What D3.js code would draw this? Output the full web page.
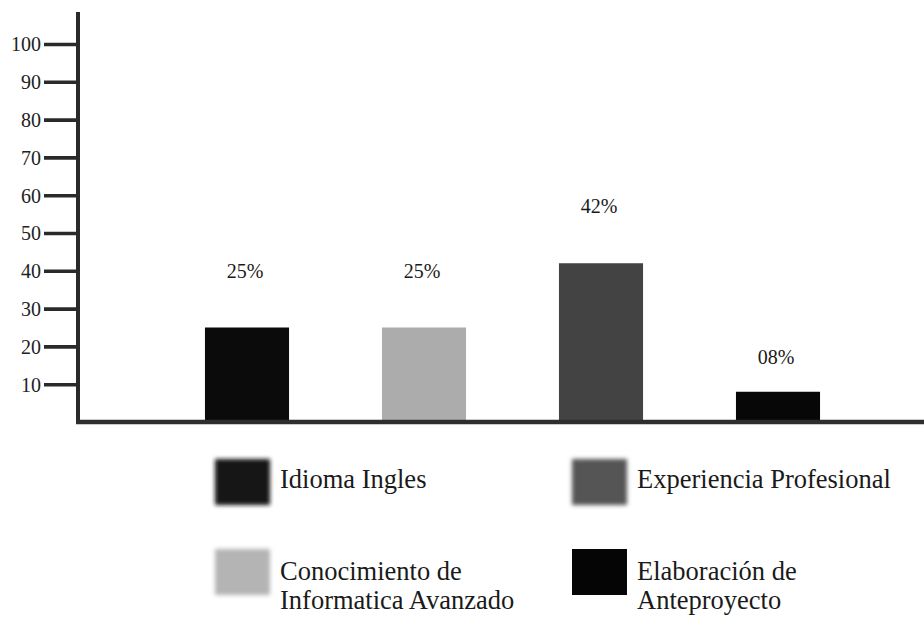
<!DOCTYPE html>
<html>
<head>
<meta charset="utf-8">
<script src="https://cdn.jsdelivr.net/npm/d3@7"></script>
<style>
  html, body { margin: 0; padding: 0; background: #fff; }
  svg { display: block; }
</style>
</head>
<body>
<svg id="chart" width="924" height="617"></svg>
<script>
// ---- data ----
const categories = ["Idioma Ingles", "Conocimiento de Informatica Avanzado", "Experiencia Profesional", "Elaboración de Anteproyecto"];
const values = [25, 25, 42, 8];
const valueLabels = ["25%", "25%", "42%", "08%"];
const barColors = ["#0b0b0b", "#acacac", "#434343", "#070707"];
const yTicks = [10, 20, 30, 40, 50, 60, 70, 80, 90, 100];
const legendLines = [["Idioma Ingles"], ["Conocimiento de", "Informatica Avanzado"], ["Experiencia Profesional"], ["Elaboración de", "Anteproyecto"]];
const legendColors = ["#151515", "#b4b4b4", "#555555", "#050505"];
const legendBlur = [true, true, true, false];
const legendCol = [0, 0, 1, 1];
const legendRow = [0, 1, 0, 1];

// ---- layout ----
const FONT = "'Liberation Serif', 'Times New Roman', serif";
const svg = d3.select("#chart");
const axisX = 78, baseY = 422;
const y = d3.scaleLinear().domain([0, 100]).range([baseY, 44]);
const x = d3.scaleBand().domain(categories).range([158.5, 866.5]).paddingInner(0.525).paddingOuter(0.2625);

const defs = svg.append("defs");
defs.append("filter").attr("id", "soft").attr("x", "-20%").attr("y", "-20%").attr("width", "140%").attr("height", "140%")
  .append("feGaussianBlur").attr("stdDeviation", 2.2);

// y axis ticks
const yAxis = d3.axisLeft(y).tickValues(yTicks).tickSize(34).tickPadding(3).tickFormat(d3.format("d"));
const gy = svg.append("g").attr("transform", `translate(${axisX},0)`).call(yAxis);
gy.select(".domain").remove();
gy.selectAll(".tick line").attr("stroke", "#2a2a2a").attr("stroke-width", 3.6);
gy.selectAll(".tick text").attr("font-size", 20).attr("fill", "#222").attr("dy", "0.34em")
  .style("font-family", FONT);

// bars
svg.selectAll("rect.bar").data(values).join("rect").attr("class", "bar")
  .attr("x", (d, i) => x(categories[i]))
  .attr("width", x.bandwidth())
  .attr("y", d => y(d))
  .attr("height", d => baseY - y(d))
  .attr("fill", (d, i) => barColors[i]);

// axis lines
svg.append("line").attr("x1", axisX).attr("x2", axisX).attr("y1", 12).attr("y2", baseY + 2)
  .attr("stroke", "#2a2a2a").attr("stroke-width", 4);
svg.append("line").attr("x1", axisX - 2).attr("x2", 924).attr("y1", baseY).attr("y2", baseY)
  .attr("stroke", "#2e2e2e").attr("stroke-width", 4.5);

// value labels
svg.selectAll("text.val").data(values).join("text").attr("class", "val")
  .attr("x", (d, i) => x(categories[i]) + x.bandwidth() / 2 - 2)
  .attr("y", d => y(d) - Math.min(50, baseY - y(d) - 2))
  .attr("text-anchor", "middle")
  .attr("font-size", 20)
  .attr("fill", "#1a1a1a")
  .style("font-family", FONT)
  .text((d, i) => valueLabels[i]);

// legend
const colX = [215, 572], rowY = [459, 549];
const lg = svg.selectAll("g.leg").data(d3.range(legendLines.length)).join("g").attr("class", "leg")
  .attr("transform", i => `translate(${colX[legendCol[i]]},${rowY[legendRow[i]]})`);
lg.append("rect").attr("width", 55).attr("height", 46)
  .attr("fill", i => legendColors[i])
  .attr("filter", i => legendBlur[i] ? "url(#soft)" : null);
lg.append("text").attr("font-size", 26.5).attr("fill", "#1a1a1a").style("font-family", FONT)
  .each(function (i) {
    const lines = legendLines[i];
    const t = d3.select(this);
    const y0 = lines.length === 1 ? 29 : 31;
    lines.forEach((s, k) => t.append("tspan").attr("x", 65).attr("y", y0 + k * 29).text(s));
  });
</script>
</body>
</html>
